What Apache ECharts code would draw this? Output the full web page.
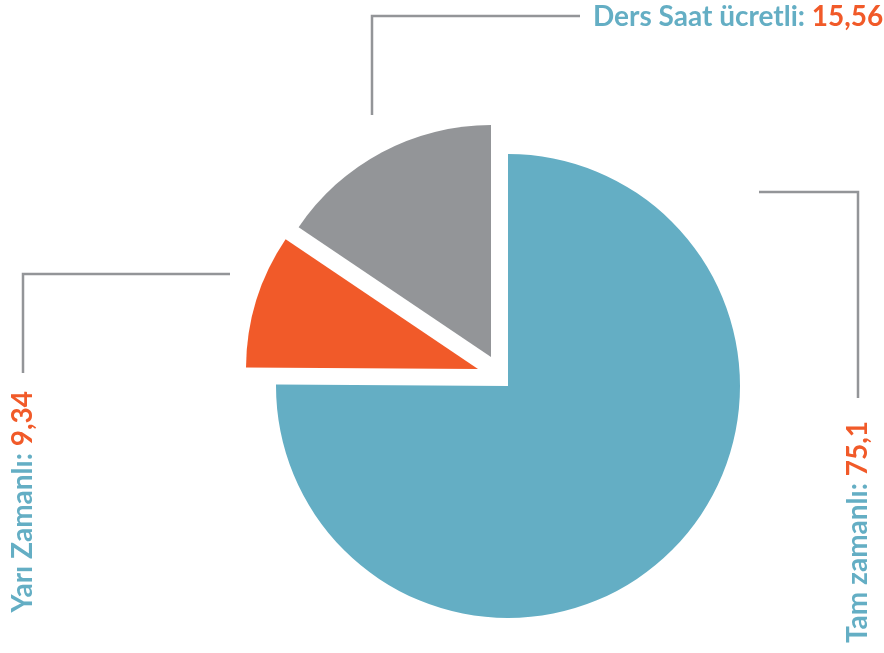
<!DOCTYPE html>
<html><head><meta charset="utf-8">
<script src="https://cdn.jsdelivr.net/npm/echarts@6/dist/echarts.min.js"></script>
<style>html,body{margin:0;padding:0;background:#fff}#c{width:884px;height:653px}</style>
</head><body><div id="c"></div>
<script>
const categories = ['Tam zamanlı', 'Yarı Zamanlı', 'Ders Saat ücretli'];
const values = [75.1, 9.34, 15.56];
const sliceColors = ['#64AEC4', '#F15A29', '#939598'];
const nameColor = '#64AEC4';
const valueColor = '#F15A29';

const centers = [[508, 386], [478, 369], [491, 357]];
const labelSpots = [
  {x: 858, y: 421, rotate: 90, align: 'right', line: [[759, 192], [858, 192], [858, 398]]},
  {x: 23, y: 391, rotate: 90, align: 'right', line: [[230, 274], [23, 274], [23, 373]]},
  {x: 593, y: 17, rotate: 0, align: 'left', line: [[372, 115], [372, 16], [580, 16]]}
];
const fmt = v => String(v).replace('.', ',');
const FS = 28;
const FF = 'Lato';

const series = categories.map((_, k) => ({
  type: 'pie',
  center: centers[k],
  radius: 232,
  startAngle: 90,
  clockwise: true,
  silent: true,
  animation: false,
  avoidLabelOverlap: false,
  itemStyle: {borderWidth: 0},
  data: categories.map((name, i) => ({
    name, value: values[i],
    itemStyle: {color: i === k ? sliceColors[i] : 'rgba(0,0,0,0)'},
    label: {show: i === k},
    labelLine: {show: i === k}
  })),
  label: {
    position: 'outside',
    formatter: p => `{n|${p.name}: }{v|${fmt(p.value)}}`,
    rich: {
      n: {color: nameColor, fontWeight: 'bold', fontSize: FS, fontFamily: FF},
      v: {color: valueColor, fontWeight: 'bold', fontSize: FS, fontFamily: FF}
    }
  },
  labelLine: {show: true, lineStyle: {color: '#939598', width: 2.5}},
  labelLayout: p => {
    if (p.dataIndex !== k) return {};
    const s = labelSpots[k];
    return {x: s.x, y: s.y, rotate: s.rotate, align: s.align, verticalAlign: 'middle', labelLinePoints: s.line};
  }
}));

const chart = echarts.init(document.getElementById('c'), null, {renderer: 'canvas'});
chart.setOption({backgroundColor: '#fff', series});
</script></body></html>
